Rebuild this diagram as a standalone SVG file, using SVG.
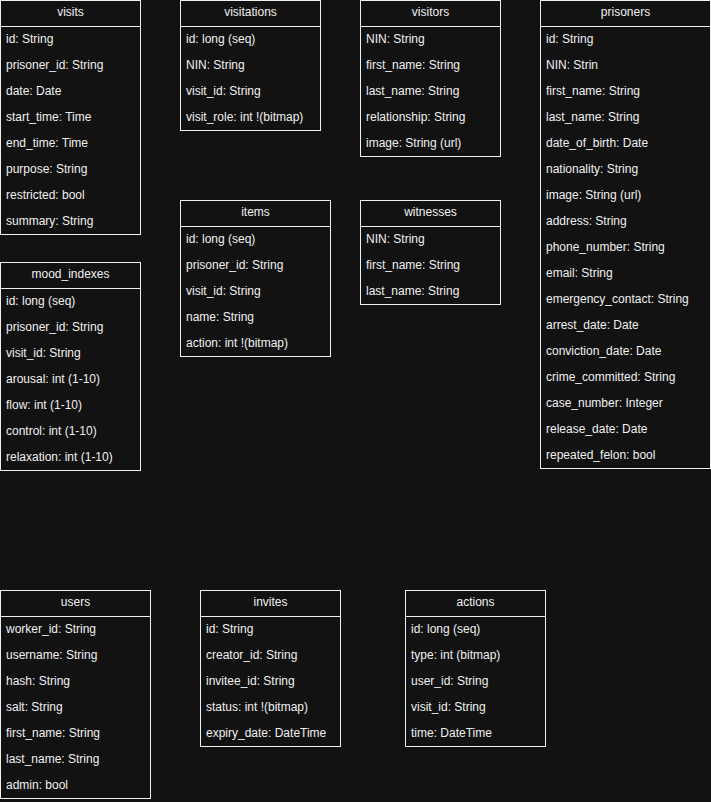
<svg xmlns="http://www.w3.org/2000/svg" width="711" height="802" viewBox="0 0 711 802">
<style>
.box{fill:#121212;stroke:#f0f0f0;stroke-width:1}
.hl{stroke:#f0f0f0;stroke-width:1}
text{font-family:"Liberation Sans",Arial,Helvetica,sans-serif;font-size:12px;fill:#f0f0f0}
.h{text-anchor:middle}
</style>
<rect width="711" height="802" fill="#121212"/>
<g id="connectors"/>
<g id="visits">
<rect class="box" x="0.5" y="0.5" width="140" height="234"/>
<line class="hl" x1="0.5" y1="26.5" x2="140.5" y2="26.5"/>
<text class="h" x="70.5" y="16">visits</text>
<text x="6" y="43">id: String</text>
<text x="6" y="69">prisoner_id: String</text>
<text x="6" y="95">date: Date</text>
<text x="6" y="121">start_time: Time</text>
<text x="6" y="147">end_time: Time</text>
<text x="6" y="173">purpose: String</text>
<text x="6" y="199">restricted: bool</text>
<text x="6" y="225">summary: String</text>
</g>
<g id="visitations">
<rect class="box" x="180.5" y="0.5" width="140" height="130"/>
<line class="hl" x1="180.5" y1="26.5" x2="320.5" y2="26.5"/>
<text class="h" x="250.5" y="16">visitations</text>
<text x="186" y="43">id: long (seq)</text>
<text x="186" y="69">NIN: String</text>
<text x="186" y="95">visit_id: String</text>
<text x="186" y="121">visit_role: int !(bitmap)</text>
</g>
<g id="visitors">
<rect class="box" x="360.5" y="0.5" width="140" height="156"/>
<line class="hl" x1="360.5" y1="26.5" x2="500.5" y2="26.5"/>
<text class="h" x="430.5" y="16">visitors</text>
<text x="366" y="43">NIN: String</text>
<text x="366" y="69">first_name: String</text>
<text x="366" y="95">last_name: String</text>
<text x="366" y="121">relationship: String</text>
<text x="366" y="147">image: String (url)</text>
</g>
<g id="prisoners">
<rect class="box" x="540.5" y="0.5" width="170" height="468"/>
<line class="hl" x1="540.5" y1="26.5" x2="710.5" y2="26.5"/>
<text class="h" x="625.5" y="16">prisoners</text>
<text x="546" y="43">id: String</text>
<text x="546" y="69">NIN: Strin</text>
<text x="546" y="95">first_name: String</text>
<text x="546" y="121">last_name: String</text>
<text x="546" y="147">date_of_birth: Date</text>
<text x="546" y="173">nationality: String</text>
<text x="546" y="199">image: String (url)</text>
<text x="546" y="225">address: String</text>
<text x="546" y="251">phone_number: String</text>
<text x="546" y="277">email: String</text>
<text x="546" y="303">emergency_contact: String</text>
<text x="546" y="329">arrest_date: Date</text>
<text x="546" y="355">conviction_date: Date</text>
<text x="546" y="381">crime_committed: String</text>
<text x="546" y="407">case_number: Integer</text>
<text x="546" y="433">release_date: Date</text>
<text x="546" y="459">repeated_felon: bool</text>
</g>
<g id="items">
<rect class="box" x="180.5" y="200.5" width="150" height="156"/>
<line class="hl" x1="180.5" y1="226.5" x2="330.5" y2="226.5"/>
<text class="h" x="255.5" y="216">items</text>
<text x="186" y="243">id: long (seq)</text>
<text x="186" y="269">prisoner_id: String</text>
<text x="186" y="295">visit_id: String</text>
<text x="186" y="321">name: String</text>
<text x="186" y="347">action: int !(bitmap)</text>
</g>
<g id="witnesses">
<rect class="box" x="360.5" y="200.5" width="140" height="104"/>
<line class="hl" x1="360.5" y1="226.5" x2="500.5" y2="226.5"/>
<text class="h" x="430.5" y="216">witnesses</text>
<text x="366" y="243">NIN: String</text>
<text x="366" y="269">first_name: String</text>
<text x="366" y="295">last_name: String</text>
</g>
<g id="mood_indexes">
<rect class="box" x="0.5" y="262.5" width="140" height="208"/>
<line class="hl" x1="0.5" y1="288.5" x2="140.5" y2="288.5"/>
<text class="h" x="70.5" y="278">mood_indexes</text>
<text x="6" y="305">id: long (seq)</text>
<text x="6" y="331">prisoner_id: String</text>
<text x="6" y="357">visit_id: String</text>
<text x="6" y="383">arousal: int (1-10)</text>
<text x="6" y="409">flow: int (1-10)</text>
<text x="6" y="435">control: int (1-10)</text>
<text x="6" y="461">relaxation: int (1-10)</text>
</g>
<g id="users">
<rect class="box" x="0.5" y="590.5" width="150" height="208"/>
<line class="hl" x1="0.5" y1="616.5" x2="150.5" y2="616.5"/>
<text class="h" x="75.5" y="606">users</text>
<text x="6" y="633">worker_id: String</text>
<text x="6" y="659">username: String</text>
<text x="6" y="685">hash: String</text>
<text x="6" y="711">salt: String</text>
<text x="6" y="737">first_name: String</text>
<text x="6" y="763">last_name: String</text>
<text x="6" y="789">admin: bool</text>
</g>
<g id="invites">
<rect class="box" x="200.5" y="590.5" width="140" height="156"/>
<line class="hl" x1="200.5" y1="616.5" x2="340.5" y2="616.5"/>
<text class="h" x="270.5" y="606">invites</text>
<text x="206" y="633">id: String</text>
<text x="206" y="659">creator_id: String</text>
<text x="206" y="685">invitee_id: String</text>
<text x="206" y="711">status: int !(bitmap)</text>
<text x="206" y="737">expiry_date: DateTime</text>
</g>
<g id="actions">
<rect class="box" x="405.5" y="590.5" width="140" height="156"/>
<line class="hl" x1="405.5" y1="616.5" x2="545.5" y2="616.5"/>
<text class="h" x="475.5" y="606">actions</text>
<text x="411" y="633">id: long (seq)</text>
<text x="411" y="659">type: int (bitmap)</text>
<text x="411" y="685">user_id: String</text>
<text x="411" y="711">visit_id: String</text>
<text x="411" y="737">time: DateTime</text>
</g>
</svg>
